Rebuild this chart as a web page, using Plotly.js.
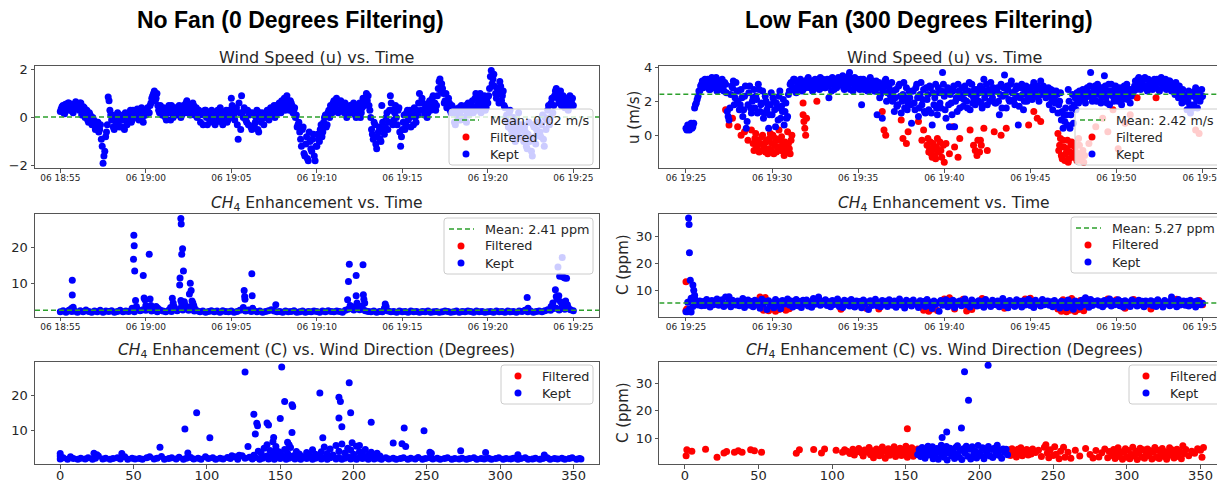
<!DOCTYPE html>
<html><head><meta charset="utf-8">
<script src="https://cdn.plot.ly/plotly-3.0.1.min.js"></script>
<style>html,body{margin:0;padding:0;overflow:hidden;background:#fff}#chart{width:1240px;height:480px}</style>
</head><body><div id="chart"></div>
<script>
// ================= DATA =================
const dayStr = '2023-06-06';
const leftStart = '18:55:00';
const rightStart = '19:25:00';
const uStepSec = 6;      // wind-speed samples every 6 s (second set offset by 3 s)
const cLeftStepSec = 10; // left CH4 baseline samples every 10 s
const cRightStepSec = 6; // right CH4 samples every 6 s

const panelTitles = ['No Fan (0 Degrees Filtering)', 'Low Fan (300 Degrees Filtering)'];
const plotTitles = ['Wind Speed (u) vs. Time', '<i>CH</i><sub>4</sub> Enhancement vs. Time', '<i>CH</i><sub>4</sub> Enhancement (C) vs. Wind Direction (Degrees)'];
const meanLabels = ['Mean: 0.02 m/s', 'Mean: 2.41 ppm', 'Mean: 2.42 m/s', 'Mean: 5.27 ppm'];
const meanValues = [0.02, 2.41, 2.42, 5.27];
const seriesNames = ['Filtered', 'Kept'];
const yLabels = ['u (m/s)', 'C (ppm)'];

// No fan: wind speed u (m/s), all kept (two interleaved sample sets)
const uLeftKept = [
0.25,0.45,0.2,0.55,0.35,0.6,0.3,0.5,0.4,0.65,
0.5,0.3,0.6,0.2,0.4,0.1,-0.1,0.2,-0.2,0.0,
-0.3,-0.4,-0.2,-0.5,-0.9,-1.9,-1.4,-0.6,0.85,0.3,
-0.1,-0.4,0.0,-0.3,-0.2,0.1,-0.4,-0.1,0.2,-0.3,
0.0,0.3,-0.1,0.2,0.1,0.35,-0.1,0.3,0.0,0.25,
0.1,0.4,0.2,0.6,0.9,1.1,0.8,0.5,0.2,0.4,
0.1,0.3,-0.1,0.4,0.2,0.5,0.0,0.3,0.4,0.2,
0.3,0.1,0.5,0.2,0.7,0.4,0.1,0.3,0.5,0.2,
0.0,0.3,-0.2,0.2,0.1,0.3,-0.3,0.0,0.2,-0.1,
0.1,-0.2,0.3,0.0,0.2,-0.3,0.1,0.3,-0.1,0.2,
0.8,0.3,-0.1,0.4,-0.9,0.2,0.9,0.0,0.3,-0.2,
-0.3,0.2,-0.5,0.1,-0.2,0.3,-0.6,0.0,0.2,-0.3,
0.0,0.3,-0.1,0.4,0.2,0.5,0.1,0.3,0.6,0.2,
0.4,0.8,0.5,0.7,0.3,0.6,0.2,0.4,0.1,-0.3,
-0.6,-1.2,-0.4,-1.6,-0.8,-1.8,-1.0,-1.4,-0.7,-1.8,
-1.2,-0.9,-0.5,-0.8,-0.2,0.1,-0.3,0.3,0.5,0.2,
0.7,0.4,0.6,0.3,0.7,0.5,0.2,0.4,0.1,0.3,
0.5,0.2,0.4,0.0,0.3,0.6,0.2,0.8,0.5,1.0,
0.9,0.3,-0.5,-0.9,-0.3,-1.3,-0.6,-0.9,0.5,-0.5,
-0.4,0.2,-0.2,0.9,0.3,-0.1,0.5,-0.3,0.4,-1.2,
-0.5,0.1,-0.3,0.3,0.0,-0.4,0.2,0.4,-0.2,0.1,
1.0,0.3,0.6,0.1,0.5,0.2,0.7,0.4,0.9,0.6,
0.5,1.2,1.6,1.4,1.0,0.7,0.4,0.8,0.3,0.5,
0.2,-0.3,0.1,0.4,-0.1,0.3,0.0,0.5,0.2,0.1,
0.3,0.7,0.4,1.0,0.5,0.8,0.2,0.6,0.9,0.4,
0.6,1.2,1.95,1.6,1.3,0.8,1.0,1.5,0.7,1.1,
0.4,0.1,-0.4,0.3,-0.7,0.0,-1.0,-0.5,0.2,-0.8,
-0.3,-1.0,-0.6,-1.3,-0.2,-0.9,-1.6,-0.4,-1.1,-0.6,
-0.2,-0.8,0.1,-1.2,-0.5,0.3,-0.3,0.6,0.2,0.9,
1.2,0.8,1.0,0.5,0.9,0.4,0.7,0.3,0.9,0.6,
0.5];
const uLeftKeptB = [
0.35,0.5,0.15,0.45,0.6,0.3,0.55,0.2,0.5,0.4,
0.4,0.6,0.1,0.45,0.0,0.3,-0.2,0.1,-0.3,-0.1,
-0.5,-0.2,-0.6,-0.3,-1.2,-1.6,-0.8,-0.3,0.7,0.1,
0.1,-0.5,-0.2,0.2,-0.4,-0.1,0.0,-0.5,0.0,-0.1,
0.2,-0.2,0.3,0.0,0.3,0.1,0.2,0.4,-0.2,0.1,
0.3,0.2,0.5,0.8,1.0,0.7,1.0,0.3,0.5,0.1,
0.4,0.0,0.2,0.5,-0.1,0.3,0.4,0.1,0.2,0.5,
0.0,0.4,0.3,0.6,0.2,0.5,0.3,0.6,0.1,0.4,
0.3,0.1,0.2,-0.3,0.3,0.0,0.1,-0.2,0.3,0.0,
-0.3,0.1,-0.1,0.4,-0.2,0.2,0.0,-0.2,0.3,0.0,
0.5,0.1,0.3,-0.3,0.6,-0.5,0.2,0.4,-0.1,0.3,
0.1,-0.4,0.2,-0.3,0.0,-0.5,0.2,-0.2,0.1,0.0,
0.2,0.0,0.3,0.1,0.4,0.0,0.5,0.2,0.4,0.7,
0.6,0.3,0.9,0.4,0.7,0.5,0.3,0.0,-0.4,-0.2,
-0.9,-0.5,-1.5,-1.1,-1.7,-0.6,-1.3,-0.9,-1.6,-1.2,
-0.7,-1.0,-0.3,-0.6,0.0,-0.4,0.2,0.0,0.4,0.6,
0.5,0.8,0.2,0.6,0.4,0.3,0.6,0.0,0.4,0.5,
0.3,0.6,0.1,0.4,0.5,0.0,0.4,0.6,0.8,0.7,
0.5,0.0,-0.7,-0.2,-1.1,-0.8,-0.4,-1.0,-0.2,-0.7,
0.0,-0.5,0.3,0.6,-0.3,0.2,0.0,0.3,-0.6,-0.8,
-0.2,-0.5,0.2,-0.1,0.3,0.1,-0.3,0.0,0.3,0.6,
0.6,0.8,0.3,0.4,0.0,0.6,0.3,0.8,0.5,0.3,
0.9,1.5,1.1,1.2,0.6,1.0,0.5,0.6,0.2,0.4,
-0.2,0.3,-0.1,0.2,0.5,0.0,0.4,-0.2,0.6,0.3,
0.5,0.2,0.8,0.3,0.6,1.0,0.4,0.7,0.3,0.8,
0.9,1.7,1.4,1.8,1.0,1.2,0.6,1.3,0.9,0.5,
0.0,-0.2,0.2,-0.5,-0.3,-0.8,-0.2,-0.6,-0.3,-0.5,
-0.8,-0.4,-1.2,-0.7,-1.0,-1.4,-0.3,-0.8,-0.5,-0.2,
-0.6,-0.3,-0.9,0.0,-0.1,0.5,0.0,0.8,0.5,1.1,
0.9,0.6,1.1,0.7,0.5,0.8,0.4,0.6,0.5,0.8];

// No fan: CH4 baseline (ppm) and spikes [minutes after start, ppm]
const cLeftBase = [
2.0,2.3,1.9,2.4,2.1,2.2, 1.9,2.3,2.0,2.5,2.1,1.9, 2.2,2.0,2.4,1.9,2.2,2.1, 2.3,1.9,2.1,2.4,2.0,2.2,
2.1,2.5,2.0,2.8,2.3,2.6, 2.4,2.9,2.2,2.6,2.0,2.5, 2.2,2.0,2.4,2.1,2.7,2.3, 2.9,2.5,3.2,2.4,2.8,2.2,
2.3,2.0,2.2,1.9,2.1,2.3, 2.0,2.2,1.9,2.3,2.1,2.0, 2.2,1.9,2.1,2.4,2.6,2.2, 2.5,2.1,2.3,2.0,2.2,1.9,
2.1,2.3,2.6,2.2,2.0,2.1, 1.9,2.2,2.0,2.1,2.3,1.9, 2.0,2.2,1.9,2.1,2.0,2.2, 2.1,1.9,2.2,2.0,2.3,2.1,
2.0,2.2,2.1,1.9,2.4,2.7, 2.9,2.5,3.1,2.6,2.8,2.3, 2.1,2.0,2.2,1.9,2.1,2.0, 2.4,2.2,2.0,2.1,1.9,2.2,
2.0,2.1,1.9,2.2,2.0,2.1, 1.9,2.1,2.0,2.2,1.9,2.0, 2.1,1.9,2.0,2.2,2.1,1.9, 2.0,2.2,1.9,2.1,2.0,2.2,
2.1,1.9,2.2,2.0,2.1,1.9, 2.0,2.1,1.9,2.2,2.0,2.1, 1.9,2.2,2.0,2.1,1.9,2.2, 2.1,2.4,2.0,2.2,1.9,2.1,
2.2,2.0,2.3,2.6,2.4,2.9, 3.0,2.5,3.3,2.7,3.1,2.6, 2.3];
const cLeftSpikes = [
[0.7,10.9],[0.7,6.7],[0.75,3.3],[0.65,2.9],
[4.3,23.5],[4.32,20.6],[4.28,16.8],[4.35,13.5],[4.4,5.2],[4.45,3.5],[4.2,3.0],
[4.85,12.2],[4.9,5.9],[4.95,5.4],[5.0,3.8],[5.2,18.2],[5.25,5.6],[5.3,3.8],[5.15,3.1],[5.6,3.5],[5.7,3.0],
[6.55,5.8],[6.6,4.5],[6.65,3.5],[6.45,3.2],
[7.05,28.2],[7.07,26.7],[7.15,19.7],[7.1,18.2],[7.2,13.5],[7.0,11.5],[6.98,9.5],[7.05,5.2],[7.1,4.3],[7.15,3.5],[7.25,4.8],[7.3,3.9],
[7.55,7.0],[7.6,10.0],[7.65,8.0],[7.7,5.0],[7.75,4.5],[7.8,3.8],[7.5,3.3],[7.85,3.0],
[10.75,8.0],[10.78,6.3],[10.8,5.5],[10.7,3.2],[11.2,12.7],[11.22,6.5],[11.25,3.0],[12.6,4.0],
[16.85,10.5],[16.9,15.4],[16.8,5.4],[16.95,3.8],[17.0,3.2],
[17.3,12.2],[17.3,6.5],[17.35,4.5],[17.25,3.5],[17.7,15.2],[17.72,6.8],[17.75,5.5],[17.8,4.5],[17.65,3.6],
[19.0,4.2],[19.05,3.5],[18.95,3.0],[27.3,6.0],[27.35,3.0],
[28.7,3.5],[28.8,4.5],[28.95,8.2],[29.0,6.3],[29.05,5.5],[29.1,14.6],[29.15,6.5],[29.2,12.0],[29.25,4.8],
[29.35,17.3],[29.4,11.8],[29.45,3.8],[29.5,11.5],[29.55,5.0],[29.6,11.4],[29.65,4.0],[29.7,3.2]];

// No fan: CH4 vs wind direction [degrees, ppm]
const cDirLeft = [
[0,2.0],[2,2.3],[5,1.9],[7,2.6],[9,2.1],[12,1.9],[14,2.2],[17,2.0],[19,2.3],[22,1.9],[24,2.2],[26,2.8],[29,2.0],[31,2.2],[34,1.9],[36,2.1],[39,2.3],[41,2.0],[44,2.6],[46,1.9],[49,2.2],[51,2.0],[54,2.1],[56,1.9],[59,2.3],[61,2.6],[64,2.0],[66,2.2],[69,2.7],[71,1.9],[74,2.1],[76,2.3],[79,2.0],[81,2.5],[84,1.9],[86,2.2],[89,2.4],[91,2.0],[94,2.2],[96,1.9],[99,2.6],[101,2.1],[104,2.3],[106,1.9],[109,2.2],[111,2.0],[114,2.4],[116,2.1],[119,2.6],[121,1.9],[124,2.9],[126,2.2],[129,2.5],
[131,2.0],[133,2.4],[136,1.9],[138,2.2],[140,2.6],[142,2.0],[144,2.3],[146,1.9],[148,2.5],[150,2.1],[152,2.4],[154,1.9],[156,2.2],[158,2.6],[160,2.0],[162,2.3],[164,1.9],[166,2.4],[168,2.1],[170,2.5],[172,1.9],[174,2.2],[176,2.7],[178,2.0],[180,2.4],[182,1.9],[184,2.3],[186,2.6],[188,2.0],[190,2.4],[192,1.9],[194,2.2],[196,2.6],[198,2.0],[200,2.3],[202,1.9],[204,2.5],[206,2.1],[208,2.3],[210,1.9],[212,2.4],[214,2.0],
[217,2.2],[219,1.9],[222,2.3],[224,2.0],[227,2.2],[229,1.9],[232,2.1],[234,2.3],[237,1.9],[239,2.2],[242,2.0],[244,2.4],[247,1.9],[249,2.1],[252,2.3],[254,2.0],[257,2.2],[259,1.9],[262,2.1],[264,2.3],[267,1.9],[269,2.1],[272,2.0],[274,2.2],[277,1.9],[279,2.1],[282,2.3],[284,1.9],[287,2.1],[289,2.0],[292,2.2],[294,1.9],[297,2.1],[299,2.3],[302,1.9],[304,2.1],[307,2.0],[309,2.2],[312,1.9],[314,2.1],[317,2.3],[319,1.9],[322,2.0],[324,2.2],[327,1.9],[329,2.1],[332,2.3],[334,1.9],[337,2.1],[339,2.0],[342,2.2],[344,1.9],[347,2.1],[349,2.3],[352,1.9],[354,2.1],[355,2.0],
[0,3.5],[0,2.8],[23,3.6],[25,3.2],[42,3.5],[68,5.3],[85,10.5],[87,3.7],[93,15.1],[102,8.0],[117,2.9],[122,3.0],
[126,26.7],[128,5.5],[132,14.7],[134,12.1],[134.5,11.4],[133,9.1],[141,12.2],[142,11.6],[150,13.5],[151,28.1],[153,18.3],[158,17.4],[158.5,16.9],
[141,6.0],[145,6.9],[145.5,8.1],[147,4.6],[158,9.5],[155,6.7],[156,6.0],[177,20.7],[190,19.5],[191,18.3],[190,13.6],[192,11.1],[197,23.6],[198,15.1],[199,6.6],
[179,8.0],[212,12.4],[204,5.8],[227,6.5],[233,6.3],[234.5,10.8],[235.5,5.5],[248,10.0],[252,3.9],[253,3.6],[273,4.3],[290,3.8],[312,3.2],[330,3.1],[216,3.6],
[132,3.0],[135,4.2],[137,3.5],[139,5.0],[141,2.8],[143,4.4],[145,3.2],[147,5.5],[149,4.0],[151,3.1],[153,4.7],[155,3.6],[157,5.2],[159,2.9],[161,4.1],[163,3.4],[165,2.7],[168,3.8],[170,3.0],[172,4.6],[174,3.3],[176,2.8],[178,4.0],[180,5.4],[182,3.5],[184,4.8],[186,3.1],[188,5.8],[190,4.2],[192,6.2],[194,3.7],[196,5.0],[198,4.5],[200,3.3],[202,5.6],[204,4.0],[206,3.4],[208,4.7],[210,3.1],[212,3.9],[215,3.0],[218,2.8]];

// Low fan: wind speed u (m/s), kept samples (two interleaved sets)
const uRightKept = [
0.4,0.6,0.3,0.7,0.5,1.6,1.9,2.3,2.6,3.0,
2.8,3.3,2.9,3.1,2.7,3.4,3.0,3.2,2.6,3.1,
2.9,3.3,2.6,3.0,1.4,0.9,2.4,2.8,1.8,3.1,
2.0,1.5,2.7,1.1,2.3,0.4,1.8,2.9,1.3,2.2,
1.6,2.1,3.0,1.4,1.9,1.0,2.3,1.5,0.4,1.8,
1.2,2.0,0.5,1.6,2.3,1.0,1.4,0.6,1.9,1.1,
2.6,3.1,2.8,3.3,2.5,3.0,2.9,3.2,2.7,3.1,
3.0,3.4,2.8,3.2,2.7,3.3,2.9,3.1,3.4,2.8,
3.1,2.8,3.3,2.2,3.0,3.4,2.7,3.2,2.9,3.3,
3.0,3.5,2.7,3.3,2.9,3.7,3.1,2.6,3.4,3.0,
3.2,2.7,1.8,3.3,2.9,3.1,2.6,3.4,2.8,3.0,
2.6,1.2,3.1,2.4,1.0,2.9,3.3,2.5,2.8,2.2,
2.0,1.4,2.7,1.8,3.0,1.3,2.4,1.6,2.8,1.9,
2.2,0.7,2.6,1.5,3.0,1.1,2.4,1.8,2.7,1.3,
2.1,1.5,2.8,0.6,1.8,3.0,1.2,2.5,1.6,3.7,
2.3,1.0,2.8,0.5,1.9,2.6,0.5,2.2,3.0,1.6,
2.4,1.7,2.9,2.0,2.6,1.5,3.0,2.2,1.8,2.7,
2.0,2.9,1.6,3.3,2.4,1.8,2.7,3.1,2.2,2.6,
1.9,2.8,1.2,3.0,2.3,3.55,1.6,2.7,2.0,3.2,
2.5,1.8,2.9,0.6,2.2,3.0,1.5,2.6,2.0,2.8,
2.7,2.1,3.1,2.4,2.9,2.0,3.2,2.5,2.8,2.2,
2.4,1.8,2.7,1.5,2.2,2.6,1.3,2.0,0.9,0.4,
0.8,1.2,2.7,0.4,1.6,0.7,2.2,2.5,1.9,2.4,
2.2,2.6,1.9,2.8,2.3,3.7,2.0,2.7,2.4,3.0,
2.4,1.9,2.8,3.5,2.2,2.6,1.8,3.0,2.3,2.7,
2.5,2.0,2.8,1.8,2.6,2.2,3.0,2.4,1.9,2.7,
2.6,3.2,2.8,3.4,2.7,3.1,2.9,3.3,2.6,3.0,
3.0,2.7,3.3,2.8,3.1,2.6,3.4,2.9,3.2,2.7,
2.9,3.2,2.6,3.0,2.4,2.8,2.2,2.6,1.9,2.4,
2.0,1.5,2.6,1.3,2.3,1.8,2.8,1.6,2.5,2.2,
2.3];
const uRightKeptB = [
0.3,0.5,0.6,0.4,0.7,1.8,2.1,2.6,2.9,3.2,
3.1,2.9,3.3,2.7,3.2,3.0,2.8,3.4,2.9,2.7,
3.2,2.8,3.1,2.5,1.1,1.6,2.9,3.2,2.2,2.6,
2.6,1.8,2.2,1.5,2.9,0.8,2.5,1.6,2.0,2.7,
2.3,1.3,2.7,1.8,2.6,1.3,2.0,1.8,1.2,2.5,
2.2,1.5,1.9,0.9,2.6,1.7,2.1,1.4,1.0,2.4,
3.0,2.7,3.3,2.6,3.1,2.8,3.3,2.6,3.0,2.8,
3.3,2.9,3.1,2.6,3.0,2.8,3.2,2.7,3.0,3.3,
2.8,3.2,2.9,3.3,2.6,3.0,3.2,2.8,3.4,3.0,
3.3,2.8,3.2,3.0,3.5,2.7,3.3,3.0,2.8,3.3,
2.9,3.3,3.0,2.7,3.2,2.6,3.0,2.8,3.2,2.6,
3.2,2.8,2.2,3.0,2.6,3.2,2.0,3.0,2.4,3.1,
2.6,2.2,1.7,2.9,2.3,2.0,3.1,2.2,1.5,2.6,
1.8,2.6,1.9,2.8,2.2,1.6,3.1,2.1,1.4,2.8,
2.4,2.9,1.3,2.5,2.2,1.6,2.8,1.9,2.6,3.0,
1.5,2.6,1.8,2.4,1.2,2.9,2.0,1.4,2.6,2.2,
2.8,2.1,2.5,1.6,3.1,2.4,1.9,2.7,2.3,2.0,
2.5,1.9,2.7,2.2,3.0,2.5,2.0,2.5,2.8,1.9,
2.6,2.0,2.4,1.6,2.8,2.4,2.9,2.1,3.0,2.5,
2.1,2.7,2.3,1.7,2.8,2.4,2.0,2.9,2.3,2.5,
2.3,2.9,2.5,2.8,2.2,2.7,2.4,2.9,2.5,2.6,
2.8,2.3,2.0,2.6,1.9,2.4,1.8,2.5,1.4,1.2,
1.6,0.6,2.0,1.2,2.4,1.8,1.5,2.0,2.6,2.1,
2.7,2.1,2.5,2.3,2.9,2.5,2.3,2.9,2.0,2.6,
2.8,2.2,2.5,2.9,1.9,3.0,2.4,2.6,2.0,2.9,
2.2,2.7,2.4,2.1,2.9,2.5,2.1,2.7,2.3,2.5,
2.9,2.7,3.3,3.0,3.2,2.8,3.4,2.9,3.3,2.8,
2.8,3.2,2.9,3.3,2.7,3.2,3.0,2.8,3.3,3.0,
3.2,2.8,3.0,2.6,3.1,2.5,2.9,2.3,2.7,2.1,
2.3,2.0,1.8,2.5,1.6,2.6,2.1,2.4,2.0,2.7];
// Low fan: filtered wind speed [minutes after start, m/s]
const uRightFiltered = [
[2.3,1.5],[2.5,0.6],[2.7,1.0],[3.0,0.5],[3.2,0.0],[3.4,0.2],[3.6,-0.3],[3.8,0.3],[3.9,-0.5],[4.0,-0.2],[4.1,-0.7],[4.2,-0.4],[4.3,-0.9],[4.4,-0.1],[4.5,-0.6],[4.6,-1.0],[4.7,-0.3],[4.8,-0.8],[4.9,0.1],[5.0,-0.5],[5.1,-1.1],[5.2,-0.2],[5.3,-0.7],[5.4,0.3],[5.5,-0.9],[5.6,-0.4],[5.7,-1.2],[5.8,-0.6],[5.9,0.2],[6.0,-0.8],[6.1,-0.3],
[3.95,-0.9],[4.05,0.1],[4.15,-0.3],[4.25,-1.0],[4.35,-0.5],[4.45,0.0],[4.55,-0.8],[4.65,-0.4],[4.75,-1.1],[4.85,-0.2],[4.95,-0.9],[5.05,0.0],[5.15,-0.6],[5.25,-1.0],[5.35,-0.3],[5.45,-0.7],[5.55,-0.1],[5.65,-0.9],[5.75,-0.4],[5.85,-1.0],[5.95,-0.5],[6.05,-1.1],[6.15,0.0],
[6.8,1.9],[6.8,1.2],[6.85,0.8],[6.9,0.4],[6.95,0.0],[7.0,1.0],[7.6,2.0],[11.4,1.4],[11.5,0.3],[11.6,0.0],[12.5,0.9],[12.6,-0.2],[12.8,-0.5],[12.9,0.2],
[13.5,0.8],[13.7,-0.3],[13.8,0.3],[14.0,-0.6],[14.1,-1.0],[14.2,-0.4],[14.3,-1.3],[14.4,-0.8],[14.5,-1.4],[14.6,-0.2],[14.8,-0.9],[15.0,-1.6],[15.1,-0.5],[15.3,-1.1],[15.5,0.5],[15.6,-0.7],[15.8,-1.3],[15.9,-0.2],
[14.05,-0.2],[14.15,-0.8],[14.25,-1.1],[14.35,-0.5],[14.45,-1.2],[14.55,-0.7],[14.65,-1.0],[14.75,-0.4],[14.85,-1.3],[14.95,-0.6],
[16.5,0.3],[16.7,-0.6],[16.9,-1.2],[17.1,-0.3],[17.3,0.4],[17.5,-0.9],[16.8,-0.9],[16.95,-0.3],[17.05,-1.0],[17.15,-0.6],[17.9,0.2],[18.3,0.0],[18.6,0.4],[19.9,0.6],[20.2,1.4],[20.4,1.0],[20.6,0.8],
[21.6,0.1],[21.7,-0.6],[21.8,-1.2],[21.9,-0.3],[22.0,-1.5],[22.1,-0.8],[22.2,-1.6],[22.3,-1.0],[22.4,-0.4],[22.5,-1.3],[22.6,-0.7],[22.7,-1.5],[22.8,-0.2],[22.9,-1.1],[23.1,-1.6],
[21.65,-0.9],[21.75,-0.2],[21.85,-1.4],[21.95,-0.7],[22.05,-1.1],[22.15,-0.3],[22.25,-1.4],[22.35,-0.6],[22.45,-1.2],[22.55,-0.5],[22.65,-1.0],[22.75,-1.3],[22.85,-0.6],[22.95,-1.5],[23.05,-0.9],[23.15,-1.2],
[23.4,-0.5],[23.8,0.5],[24.2,1.0],[24.5,0.2],[24.8,1.5],[25.1,-0.8],[25.5,0.7],[25.8,1.2],[26.2,2.2],[27.3,2.2],[29.6,0.3],[29.8,0.1]];

// Low fan: CH4 kept samples (ppm) + spikes [minutes, ppm]
const cRightKept = [
2.0,5.5,3.0,6.5,4.0,7.0,5.0,4.5,6.0,4.2,
5.8,4.3,6.6,5.0,3.8,6.2,4.6,5.5,6.8,4.4,
5.2,6.5,4.0,7.5,4.8,5.9,3.9,6.3,5.1,4.5,
6.0,4.2,5.6,6.9,3.6,5.3,6.4,4.4,5.8,3.9,
6.3,4.6,5.5,3.3,6.7,4.8,5.9,2.8,6.1,4.3,
5.2,3.5,6.6,4.4,5.7,3.1,6.2,4.9,5.4,6.8,
4.5,6.0,3.8,5.5,6.6,4.2,5.8,3.6,6.3,5.0,
6.4,4.1,5.6,3.7,6.9,4.8,5.3,7.5,4.4,5.9,
5.0,6.5,4.3,5.7,3.9,6.2,4.7,5.4,6.8,4.0,
5.5,3.6,6.3,4.6,5.9,4.1,6.6,5.2,3.8,6.0,
4.5,5.8,3.5,6.4,4.9,5.6,2.8,6.1,4.3,5.3,
6.7,4.2,5.5,3.9,6.2,4.7,5.9,4.0,6.5,5.1,
4.4,6.0,3.7,5.6,6.8,4.5,5.2,3.4,6.3,4.8,
5.7,4.1,6.4,4.9,5.3,3.6,6.1,4.6,5.8,4.0,
6.6,4.3,5.5,3.2,6.0,4.7,5.4,2.2,6.2,4.4,
5.1,6.5,3.9,5.8,4.5,6.3,3.6,5.6,4.9,6.0,
4.2,5.7,6.8,4.6,5.3,3.8,6.4,4.9,5.5,4.1,
6.1,4.4,5.8,3.7,6.6,4.8,5.2,4.0,6.3,5.0,
4.6,6.0,3.9,5.5,6.9,4.3,5.7,3.5,6.2,4.7,
5.4,4.0,6.5,4.8,5.9,3.8,6.1,4.5,5.6,6.7,
4.3,5.8,3.6,6.3,4.9,5.2,4.1,6.6,4.6,5.5,
6.0,4.4,5.7,3.9,6.2,4.7,5.3,3.4,5.9,4.2,
5.6,3.5,6.4,4.0,5.2,2.9,6.0,4.5,5.5,3.8,
6.3,4.6,7.2,5.0,3.7,6.6,4.3,5.8,4.9,6.1,
4.4,5.7,3.9,6.2,4.8,5.4,6.8,4.1,5.9,4.6,
5.3,6.5,4.2,5.8,3.8,6.1,4.7,5.5,4.0,6.4,
4.9,5.6,4.1,6.3,4.6,5.9,3.9,6.0,4.8,5.2,
6.1,4.3,5.7,4.0,6.5,4.7,5.4,3.8,6.2,4.9,
5.5,4.2,6.4,4.8,5.8,3.9,6.6,4.5,5.3,6.0,
4.4,5.9,4.1,6.3,4.7,5.6,3.8,6.1,5.0,4.6,
5.2];
const cRightKeptSpikes = [[0.15,37.0],[0.18,34.6],[0.2,24.0],[0.25,13.8],[0.4,12.0],[0.45,10.0],[0.5,8.2],[0.3,7.0],[0.1,2.0],[0.2,2.4],[0.3,1.9],[2.5,7.6],[28.2,7.5]];
const cRightFiltered = [
[0.0,13.2],[0.0,2.5],[0.05,3.0],[4.3,7.5],[4.6,7.3],[4.5,2.6],[4.8,2.4],[5.0,3.0],[5.2,2.2],[5.4,2.8],[5.6,3.3],[5.8,2.6],[6.0,3.1],[9.0,2.9],[10.5,3.2],[11.2,3.0],
[13.8,2.6],[14.1,2.2],[14.3,3.0],[14.6,2.5],[15.0,6.8],[15.3,7.2],[15.6,3.0],[16.1,6.7],[16.3,2.3],[16.6,2.8],[17.2,6.9],[18.5,3.3],[19.7,6.8],[20.0,7.0],
[21.6,3.0],[21.8,2.2],[21.9,6.5],[22.0,4.0],[22.1,2.0],[22.2,5.5],[22.3,2.6],[22.4,6.9],[22.5,3.4],[22.6,2.1],[22.7,4.5],[22.8,2.8],[22.9,6.2],[23.0,3.2],[23.1,2.4],[23.3,6.6],
[24.5,6.8],[25.0,6.5],[25.5,3.3],[26.0,6.6],[27.0,3.0],[28.5,6.7],[29.6,5.8],[29.8,6.2],[29.9,5.0],[30.0,4.6]];

// Low fan: CH4 vs wind direction [degrees, ppm]
const cDirRightFiltered = [
[0.8,3.5],[1.3,5.7],[4.7,5.2],[14,5.9],[21.8,3.0],[26.5,4.5],[28.3,5.1],[33.6,4.8],[36.2,5.3],[38.8,4.8],[44.6,5.7],[47.2,5.3],[52,4.8],[75.6,4.4],[77.7,5.7],[87.4,5.8],[92.7,4.5],[94.8,6.0],[102.6,5.5],[107,4.8],[108.4,5.7],
[110,5.2],[112,4.3],[114,5.9],[115,3.8],[117,5.0],[118,6.2],[120,4.5],[121,3.4],[122,5.6],[124,4.8],[125,6.5],[126,3.9],[127,5.3],[128,2.8],[129,4.6],[130,6.0],[131,5.1],[132,3.5],[133,4.2],[134,6.7],[135,5.4],[136,2.6],[137,4.9],[138,6.1],[139,3.7],[140,5.6],[141,4.4],[142,6.8],[143,3.2],[144,5.0],[145,4.1],[146,6.3],[147,3.6],[148,5.3],[149,4.6],[150,7.0],[151,13.4],[151,3.0],[152,5.8],[153,4.3],[154,6.4],[155,3.3],[156,5.1],[157,4.0],[158,6.0],[159,5.5],
[219,4.8],[220,5.6],[221,3.6],[222,6.1],[223,4.4],[224,5.2],[225,3.1],[226,5.9],[227,4.0],[228,6.4],[229,3.5],[230,5.0],[231,4.6],[232,5.8],[233,3.8],[234,5.3],[235,4.2],[236,6.0],[238,4.7],[240,5.5],[242,3.2],[244,6.6],[245,7.5],[246,4.5],[247,2.8],[248,5.7],[250,3.6],[251,6.8],[252,4.1],[254,2.4],[255,5.2],[257,6.6],[258,3.0],[260,4.8],[262,2.6],[265,5.5],[268,3.4],[272,6.2],[275,4.0],[277,2.7],[279,5.4],[281,3.1],[283,4.6],[285,6.0],[287,2.8],[288,5.1],
[290,3.6],[291,5.8],[292,2.5],[293,4.3],[294,6.4],[295,3.2],[296,5.0],[297,2.2],[298,4.7],[299,6.1],[300,3.0],[301,5.4],[302,2.4],[303,4.0],[304,6.6],[305,3.4],[306,5.2],[307,2.1],[308,4.5],[309,6.3],[310,3.1],[311,5.7],[312,2.6],[313,4.2],[314,6.0],[315,3.5],[316,5.3],[317,2.3],[318,4.8],[319,6.5],[320,3.0],[321,5.5],[322,2.5],[323,4.4],[324,6.2],[325,3.3],[326,5.0],[327,2.2],[328,4.6],[329,6.4],[330,3.7],[331,5.6],[332,2.7],[333,4.1],[334,5.9],[335,3.2],[336,5.1],[337,2.4],[338,7.2],[339,4.3],[340,5.8],
[342,3.5],[344,5.2],[346,4.4],[348,6.1],[350,5.5],[351,3.0],[352,6.5]];
const cDirRightKept = [
[158,4.0],[159,5.8],[160,3.2],[161,6.5],[162,4.6],[163,2.6],[164,5.2],[165,7.0],[165.5,3.8],[166,5.6],[167,4.3],[168,6.8],[168.5,2.4],[169,5.0],[170,3.6],[171,6.2],[171.5,4.8],[172,2.2],[173,5.5],[174,7.4],[174.5,4.1],[175,6.0],[176,3.0],[177,5.3],[177.5,6.9],[178,2.0],[179,4.6],[174.6,10.2],[180,6.3],[181,3.5],[177.7,12.2],[182,5.7],[183,2.5],[184,6.6],[184.5,4.2],[185,7.2],[186,3.1],[187,5.4],[187.7,13.7],[188,2.1],[189,6.1],[189.8,34.2],[190,4.5],[191,7.0],[192,3.3],[192.5,23.8],[193,5.9],[194,2.3],[195,6.8],[196,4.0],[197,5.2],[198,2.7],[199,7.3],[200,4.7],[201,3.6],[202,6.4],[203,2.4],[204,5.5],[205,4.2],[205.8,36.6],[206,6.9],[207,3.4],[208,5.8],[209,2.9],[210,6.3],[211,4.4],[212,7.4],[213,3.7],[214,5.6],[215,2.6],[216,6.0],[217,4.8],[218,5.9],[219,3.9]];

// ================= BUILD =================
function hmsToSec(s){const p=s.split(':').map(Number);return p[0]*3600+p[1]*60+p[2];}
function pad(n){return (n<10?'0':'')+n;}
function stamp(startHMS, minutes){
  let t=hmsToSec(startHMS)+minutes*60;
  const h=Math.floor(t/3600); t-=h*3600; const m=Math.floor(t/60); const s=t-m*60;
  return dayStr+' '+pad(h)+':'+pad(m)+':'+(s<10?'0':'')+s.toFixed(3);
}
function seriesTimes(startHMS,n,stepSec,offsetSec){const o=[];for(let i=0;i<n;i++)o.push(stamp(startHMS,(i*stepSec+(offsetSec||0))/60));return o;}
function pairTimes(startHMS,pairs){return pairs.map(p=>stamp(startHMS,p[0]));}
const col=(pairs,i)=>pairs.map(p=>p[i]);

const RED='#ff0000', BLUE='#0000ff', GREEN='#2ca02c';
const FONT='DejaVu Sans';
const W=1240, H=480;
const px=x=>x/W, py=y=>1-y/H;

const xRangeL=[stamp(leftStart,-1.48), stamp(leftStart,31.5)];
const xRangeR=[stamp(rightStart,-1.55), stamp(rightStart,31.56)];

function mk(x,y,color,xa,ya){
  return {type:'scatter',mode:'markers',x:x,y:y,xaxis:xa,yaxis:ya,showlegend:false,
    marker:{color:color,size:7,line:{width:0}},hoverinfo:'skip'};
}
function meanTrace(xr,val,xa,ya){
  return {type:'scatter',mode:'lines',x:xr,y:[val,val],xaxis:xa,yaxis:ya,showlegend:false,
    line:{color:GREEN,width:1.5,dash:'5px,3px'},hoverinfo:'skip'};
}
const traces=[];
// Left row 1
traces.push(mk(seriesTimes(leftStart,uLeftKept.length,uStepSec).concat(seriesTimes(leftStart,uLeftKeptB.length,uStepSec,3)),
  uLeftKept.concat(uLeftKeptB),BLUE,'x','y'));
traces.push(meanTrace(xRangeL,meanValues[0],'x','y'));
// Left row 2
traces.push(mk(seriesTimes(leftStart,cLeftBase.length,cLeftStepSec).concat(pairTimes(leftStart,cLeftSpikes)),
  cLeftBase.concat(col(cLeftSpikes,1)),BLUE,'x2','y2'));
traces.push(meanTrace(xRangeL,meanValues[1],'x2','y2'));
// Left row 3
traces.push(mk(col(cDirLeft,0),col(cDirLeft,1),BLUE,'x3','y3'));
// Right row 1
traces.push(mk(pairTimes(rightStart,uRightFiltered),col(uRightFiltered,1),RED,'x4','y4'));
traces.push(mk(seriesTimes(rightStart,uRightKept.length,uStepSec).concat(seriesTimes(rightStart,uRightKeptB.length,uStepSec,3)),
  uRightKept.concat(uRightKeptB),BLUE,'x4','y4'));
traces.push(meanTrace(xRangeR,meanValues[2],'x4','y4'));
// Right row 2
traces.push(mk(pairTimes(rightStart,cRightFiltered),col(cRightFiltered,1),RED,'x5','y5'));
traces.push(mk(seriesTimes(rightStart,cRightKept.length,cRightStepSec).concat(pairTimes(rightStart,cRightKeptSpikes)),
  cRightKept.concat(col(cRightKeptSpikes,1)),BLUE,'x5','y5'));
traces.push(meanTrace(xRangeR,meanValues[3],'x5','y5'));
// Right row 3
traces.push(mk(col(cDirRightFiltered,0),col(cDirRightFiltered,1),RED,'x6','y6'));
traces.push(mk(col(cDirRightKept,0),col(cDirRightKept,1),BLUE,'x6','y6'));

const LINE='#555555', TXT='#262626';
function xa(domain,range,isDate,anchor){
  const a={domain:domain,range:range,anchor:anchor,showline:true,mirror:true,linecolor:LINE,linewidth:1,
    ticks:'outside',ticklen:3.5,tickcolor:LINE,showgrid:false,zeroline:false,fixedrange:true,
    tickfont:{family:FONT,size:isDate?9:13,color:TXT}};
  if(isDate){a.type='date';a.tickformat='%d %H:%M';a.dtick=300000;a.tick0=dayStr+' 00:00:00';a.ticklabelstandoff=-2;}
  else {a.dtick=50;a.tick0=0;a.ticklabelstandoff=-4;}
  return a;
}
function ya(domain,range,dtick,anchor){
  return {domain:domain,range:range,anchor:anchor,dtick:dtick,tick0:0,showline:true,mirror:true,linecolor:LINE,linewidth:1,
    ticks:'outside',ticklen:3.5,tickcolor:LINE,showgrid:false,zeroline:false,fixedrange:true,
    tickfont:{family:FONT,size:13,color:TXT}};
}
const dL=[px(35),px(599)], dR=[px(659.3),px(1229.4)];
const r1=[py(168),py(66)], r2=[py(316.7),py(214)], r3=[py(464),py(361.7)];

// ---- annotations (titles, labels) and hand-laid legends ----
const ann=[], shapes=[];
function title(text,xc,yc,size,bold,family){
  ann.push({text:text,xref:'paper',yref:'paper',x:px(xc),y:py(yc),xanchor:'center',yanchor:'middle',showarrow:false,
    font:{family:family||FONT,size:size,color:bold?'#000':TXT,weight:bold?'bold':'normal'}});
}
title(panelTitles[0],290,20,23,true,'Liberation Sans');
title(panelTitles[1],919,20,23,true,'Liberation Sans');
const cxL=(35+599)/2, cxR=(659.3+1229.4)/2;
title(plotTitles[0],cxL,57,16); title(plotTitles[0],cxR,57,16);
title(plotTitles[1],cxL,204,15.5); title(plotTitles[1],cxR,204,15.5);
title(plotTitles[2],cxL,351,15.5); title(plotTitles[2],cxR,351,15.5);
function ylab(text,xc,yc){ann.push({text:text,xref:'paper',yref:'paper',x:px(xc),y:py(yc),textangle:-90,xanchor:'center',yanchor:'middle',showarrow:false,font:{family:FONT,size:15,color:TXT}});}
ylab(yLabels[0],634,117); ylab(yLabels[1],623,265); ylab(yLabels[1],623,413);

function legendBox(x0,y0,x1,rows,fs){
  const rowH=17, y1=y0+11+rowH*(rows.length-1)+11, r=3;
  const X=v=>px(v), Y=v=>py(v);
  const path=`M ${X(x0+r)},${Y(y0)} L ${X(x1-r)},${Y(y0)} Q ${X(x1)},${Y(y0)} ${X(x1)},${Y(y0+r)} L ${X(x1)},${Y(y1-r)} Q ${X(x1)},${Y(y1)} ${X(x1-r)},${Y(y1)} L ${X(x0+r)},${Y(y1)} Q ${X(x0)},${Y(y1)} ${X(x0)},${Y(y1-r)} L ${X(x0)},${Y(y0+r)} Q ${X(x0)},${Y(y0)} ${X(x0+r)},${Y(y0)} Z`;
  shapes.push({type:'path',xref:'paper',yref:'paper',path:path,fillcolor:'rgba(255,255,255,0.8)',line:{color:'#cccccc',width:1},layer:'above'});
  rows.forEach((row,k)=>{
    const cy=y0+11+rowH*k;
    if(row.kind==='line'){
      shapes.push({type:'line',xref:'paper',yref:'paper',x0:X(x0+5),x1:X(x0+30),y0:Y(cy),y1:Y(cy),line:{color:GREEN,width:1.5,dash:'5px,3px'},layer:'above'});
    } else {
      const cx=x0+17;
      shapes.push({type:'circle',xref:'paper',yref:'paper',x0:X(cx-3.5),x1:X(cx+3.5),y0:Y(cy+3.5),y1:Y(cy-3.5),fillcolor:row.color,line:{width:0},layer:'above'});
    }
    ann.push({text:row.text,xref:'paper',yref:'paper',x:X(x0+39),y:Y(cy),xanchor:'left',yanchor:'middle',showarrow:false,font:{family:FONT,size:fs,color:TXT}});
  });
}
const fRow={kind:'dot',color:RED,text:seriesNames[0]}, kRow={kind:'dot',color:BLUE,text:seriesNames[1]};
legendBox(449,109,593,[{kind:'line',text:meanLabels[0]},fRow,kRow],12.8);
legendBox(444,218,593,[{kind:'line',text:meanLabels[1]},fRow,kRow],12.8);
legendBox(501,365,593,[fRow,kRow],12.8);
legendBox(1075,109,1223,[{kind:'line',text:meanLabels[2]},fRow,kRow],12.6);
legendBox(1071,217,1223,[{kind:'line',text:meanLabels[3]},fRow,kRow],12.6);
legendBox(1129,365,1223,[fRow,kRow],12.6);

const layout={width:W,height:H,margin:{l:0,r:0,t:0,b:0},paper_bgcolor:'#fff',plot_bgcolor:'#fff',
  font:{family:FONT,color:TXT},hovermode:false,showlegend:false,annotations:ann,shapes:shapes,
  xaxis:xa(dL,xRangeL,true,'y'), yaxis:ya(r1,[-2.1,2.14],2,'x'),
  xaxis2:xa(dL,xRangeL,true,'y2'), yaxis2:ya(r2,[0.62,29.5],10,'x2'),
  xaxis3:xa(dL,[-17.2,367.3],false,'y3'), yaxis3:ya(r3,[0.55,29.6],10,'x3'),
  xaxis4:xa(dR,xRangeR,true,'y4'), yaxis4:ya(r1,[-1.94,4.08],2,'x4'),
  xaxis5:xa(dR,xRangeR,true,'y5'), yaxis5:ya(r2,[0.15,38.5],10,'x5'),
  xaxis6:xa(dR,[-17.4,369.6],false,'y6'), yaxis6:ya(r3,[0.5,37.9],10,'x6')
};
Plotly.newPlot('chart',traces,layout,{displayModeBar:false,staticPlot:true});
</script></body></html>
